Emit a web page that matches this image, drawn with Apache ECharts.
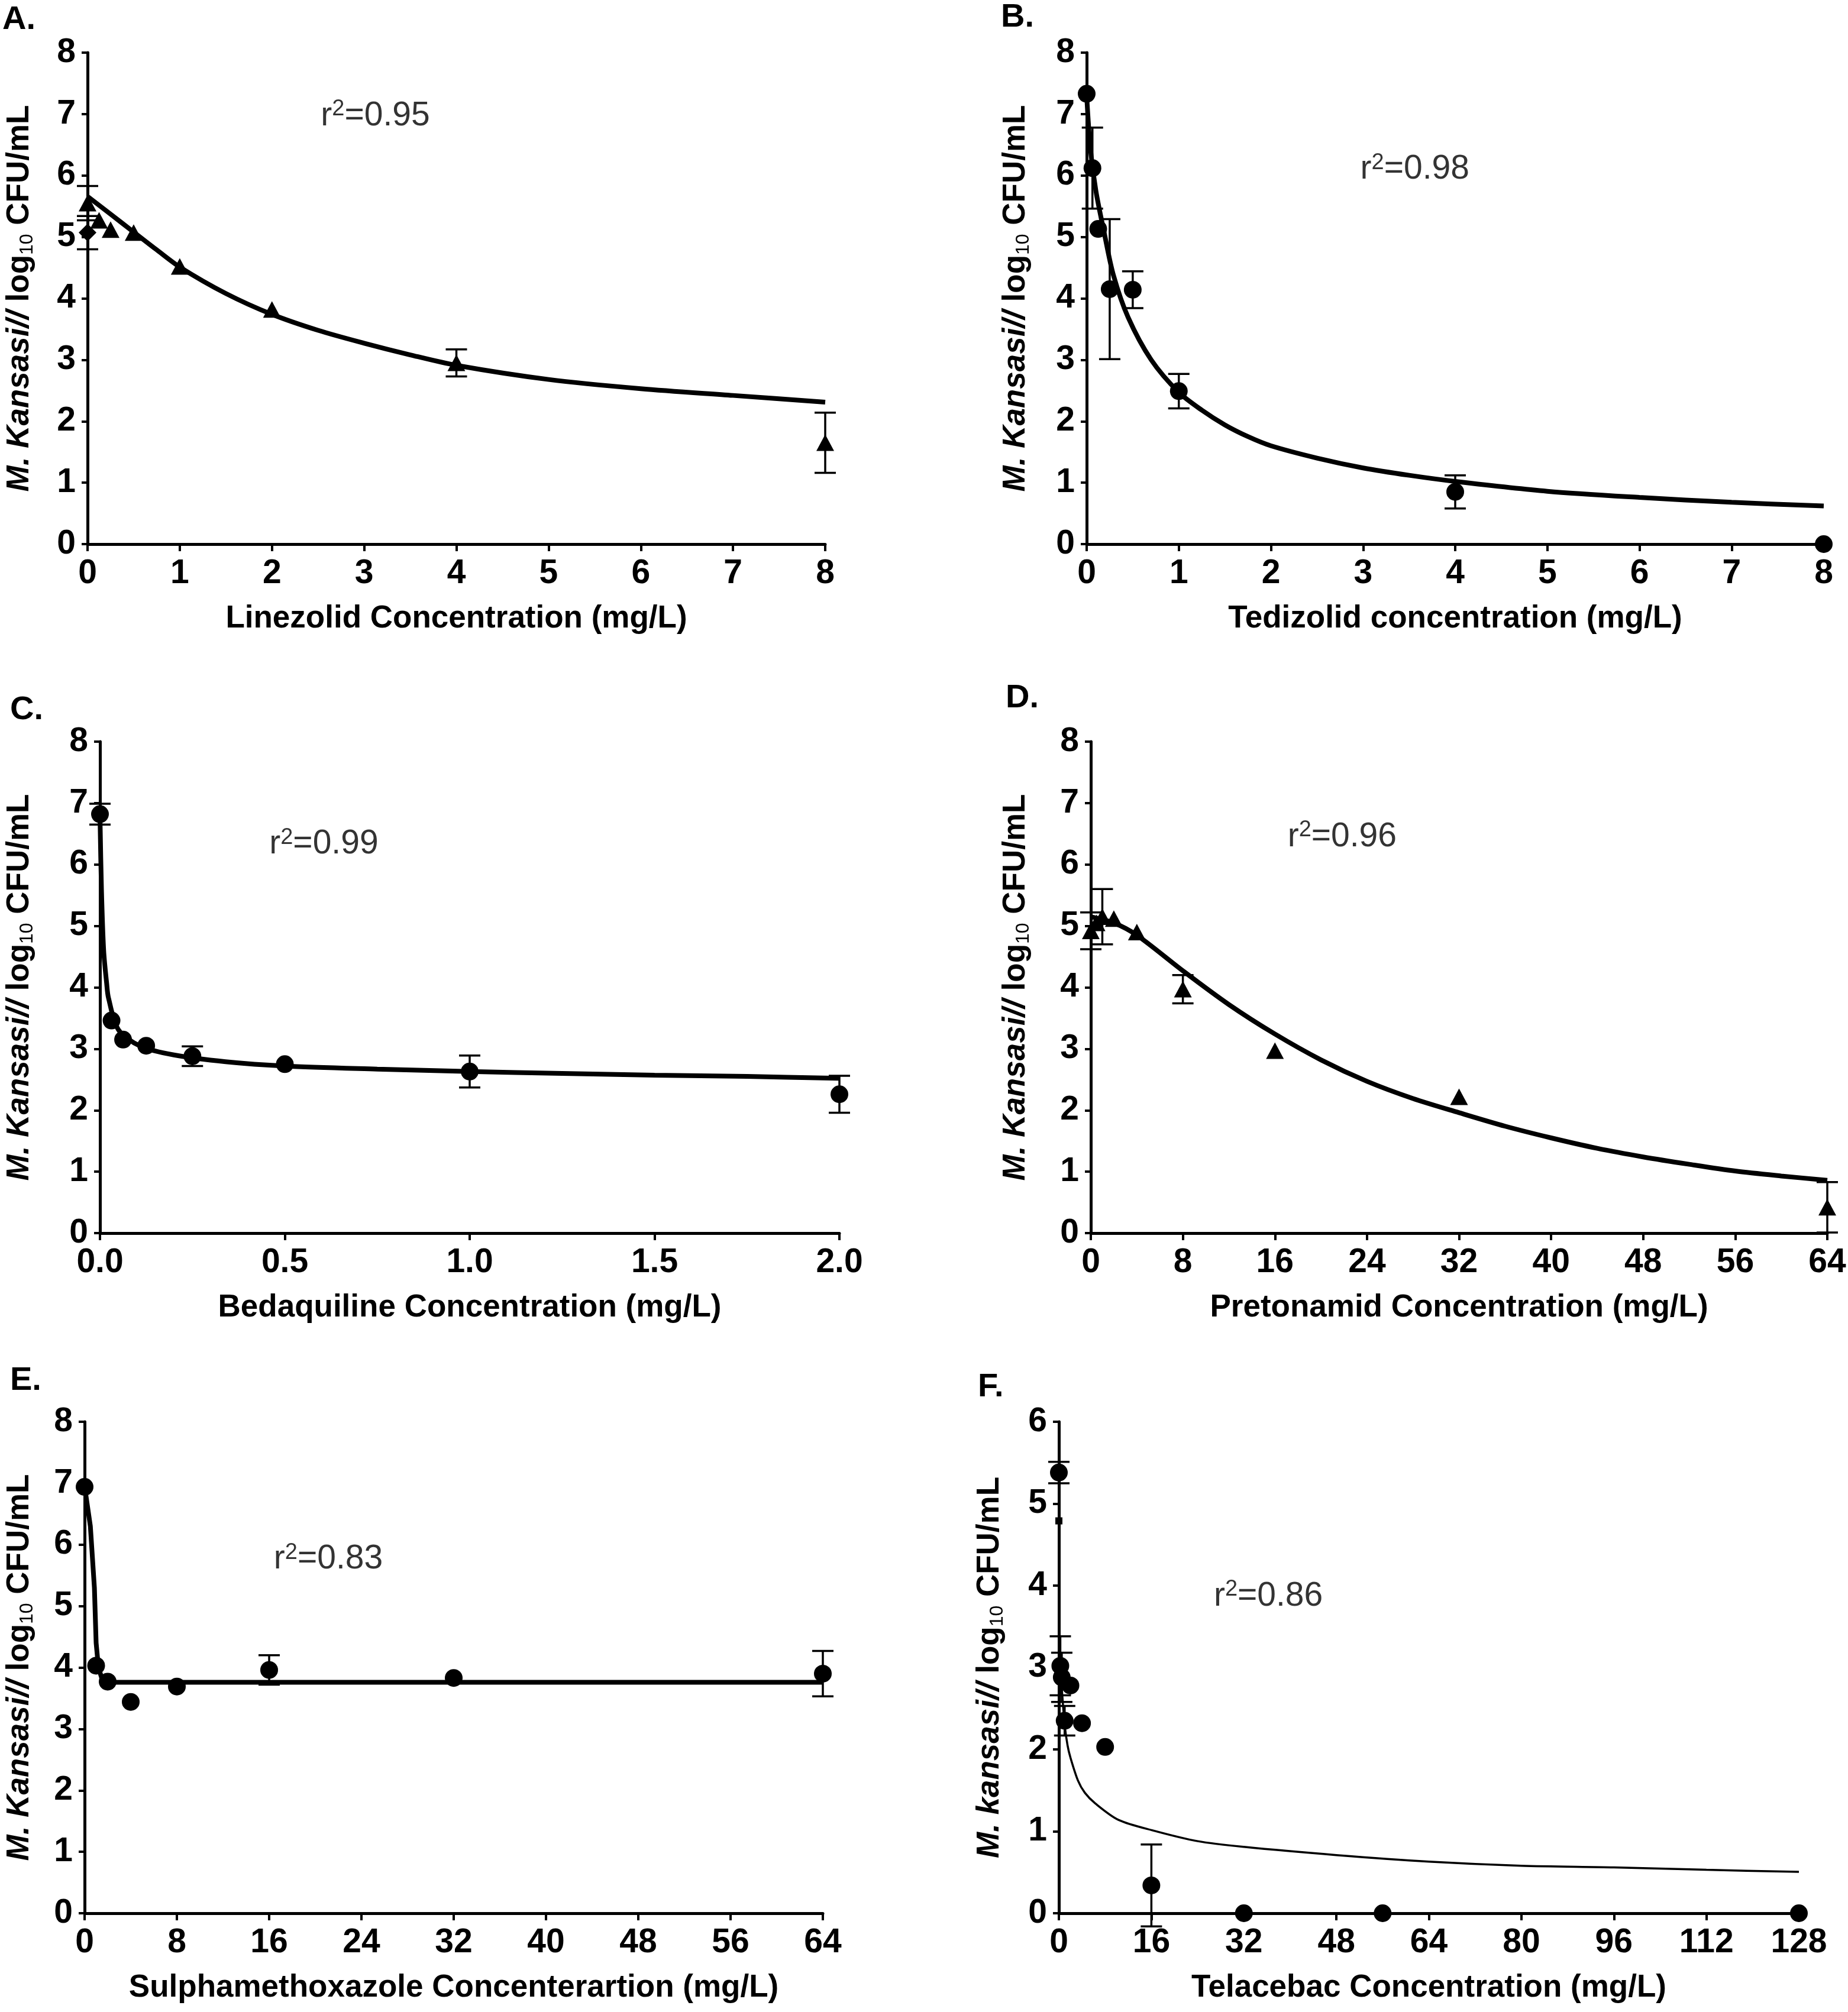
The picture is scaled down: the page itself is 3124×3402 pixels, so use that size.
<!DOCTYPE html>
<html><head><meta charset="utf-8">
<script src="https://cdn.jsdelivr.net/npm/echarts@6/dist/echarts.min.js"></script>
<style>html,body{margin:0;padding:0;background:#fff}#c{width:3124px;height:3402px}</style>
</head><body><div id="c"></div>
<script>
// ---------------- DATA ----------------
// Panel A – Linezolid
const aTriX = [0, 0.125, 0.25, 0.5, 1, 2, 4, 8];
const aTriY = [5.55, 5.27, 5.12, 5.07, 4.52, 3.82, 2.95, 1.65];
const aTriErr = [0.28, 0, 0, 0, 0, 0, 0.22, 0.49];
const aDiaX = [0];
const aDiaY = [5.07];
const aDiaErr = [0.27];
const aCurveX = [0, 0.25, 0.5, 0.75, 1, 1.5, 2, 2.5, 3, 3.5, 4, 5, 6, 7, 8];
const aCurveY = [5.66, 5.37, 5.08, 4.79, 4.51, 4.08, 3.74, 3.48, 3.27, 3.08, 2.91, 2.68, 2.53, 2.42, 2.31];
// Panel B – Tedizolid
const bX = [0, 0.0625, 0.125, 0.25, 0.5, 1, 4, 8];
const bY = [7.33, 6.12, 5.13, 4.15, 4.14, 2.49, 0.85, 0];
const bErr = [0, 0.66, 0, 1.14, 0.3, 0.28, 0.27, 0];
const bCurveX = [0, 0.04, 0.1, 0.19, 0.29, 0.45, 0.7, 1, 1.25, 1.5, 1.75, 2, 2.5, 3, 3.5, 4, 5, 6, 7, 8];
const bCurveY = [7.3, 6.44, 5.75, 5.07, 4.38, 3.69, 3.0, 2.47, 2.18, 1.94, 1.75, 1.6, 1.4, 1.24, 1.12, 1.02, 0.86, 0.76, 0.68, 0.62];
// Panel C – Bedaquiline
const cX = [0, 0.03125, 0.0625, 0.125, 0.25, 0.5, 1, 2];
const cY = [6.82, 3.46, 3.15, 3.05, 2.88, 2.75, 2.63, 2.26];
const cErr = [0.17, 0, 0, 0, 0.16, 0, 0.26, 0.3];
const cCurveX = [0, 0.004, 0.01, 0.018, 0.023, 0.05, 0.11, 0.2, 0.34, 0.5, 0.75, 1, 1.25, 1.5, 1.75, 2];
const cCurveY = [6.8, 5.6, 4.6, 4.07, 3.83, 3.31, 3.04, 2.9, 2.79, 2.72, 2.67, 2.63, 2.6, 2.57, 2.55, 2.52];
// Panel D – Pretonamid
const dX = [0, 0.5, 1, 2, 4, 8, 16, 32, 64];
const dY = [4.92, 5.05, 5.15, 5.12, 4.9, 3.97, 2.97, 2.22, 0.42];
const dErr = [0.3, 0, 0.45, 0, 0, 0.23, 0, 0, 0.41];
const dCurveX = [0, 2, 4, 8, 12, 16, 20, 24, 28, 32, 36, 40, 44, 48, 52, 56, 60, 64];
const dCurveY = [5.15, 5.05, 4.85, 4.27, 3.72, 3.24, 2.82, 2.47, 2.19, 1.96, 1.74, 1.55, 1.38, 1.24, 1.12, 1.01, 0.93, 0.86];
// Panel E – Sulphamethoxazole
const eX = [0, 1, 2, 4, 8, 16, 32, 64];
const eY = [6.94, 4.03, 3.77, 3.44, 3.69, 3.96, 3.83, 3.9];
const eErr = [0, 0, 0, 0, 0, 0.24, 0, 0.37];
const eCurveX = [0, 0.5, 0.85, 1.0, 1.2, 1.5, 2, 64];
const eCurveY = [6.95, 6.3, 5.3, 4.4, 4.0, 3.82, 3.76, 3.76];
// Panel F – Telacebac
const fX = [0, 0.25, 0.5, 1, 2, 4, 8, 16, 32, 56, 128];
const fY = [5.38, 3.02, 2.88, 2.35, 2.78, 2.32, 2.03, 0.34, 0, 0, 0];
const fErr = [0.13, 0.36, 0.3, 0.18, 0, 0, 0, 0.5, 0, 0, 0];
const fSqX = [0];
const fSqY = [4.79];
const fCurveX = [0.25, 0.5, 1, 1.5, 2, 3.3, 4.5, 6.3, 10.3, 16.3, 24, 32, 48, 64, 80, 96, 112, 128];
const fCurveY = [3.0, 2.75, 2.3, 2.05, 1.9, 1.62, 1.47, 1.34, 1.14, 1.01, 0.88, 0.81, 0.71, 0.63, 0.58, 0.56, 0.53, 0.505];

const panelLetters = ['A.', 'B.', 'C.', 'D.', 'E.', 'F.'];
const xTitles = ['Linezolid Concentration (mg/L)', 'Tedizolid concentration (mg/L)',
  'Bedaquiline Concentration (mg/L)', 'Pretonamid Concentration (mg/L)',
  'Sulphamethoxazole Concenterartion (mg/L)', 'Telacebac Concentration (mg/L)'];
const speciesNames = ['M. Kansasi//', 'M. Kansasi//', 'M. Kansasi//', 'M. Kansasi//', 'M. Kansasi//', 'M. kansasi//'];
const xMaxes = [8, 8, 2, 64, 64, 128];
const xIntervals = [1, 1, 0.5, 8, 8, 16];
const yMaxes = [8, 8, 8, 8, 8, 6];
const r2Values = ['0.95', '0.98', '0.99', '0.96', '0.83', '0.86'];
const r2X = [2.53, 2.97, 0.458, 17.1, 16.4, 26.8];
const r2Y = [6.97, 6.1, 6.33, 6.45, 5.76, 3.87];

// ---------------- LAYOUT ----------------
const grids = [
  {left: 148, top: 89, width: 1247, height: 831},
  {left: 1837, top: 89, width: 1246, height: 831},
  {left: 169, top: 1254, width: 1250, height: 831},
  {left: 1844, top: 1254, width: 1245, height: 831},
  {left: 143, top: 2404, width: 1248, height: 831},
  {left: 1790, top: 2404, width: 1251, height: 831}
];
const yNameGaps = [86, 91, 107, 98, 81, 88];
const letterPos = [[4, 6], [1692, 2], [17, 1173], [1700, 1153], [17, 2307], [1653, 2318]];

const FONT = '"Liberation Sans", Arial, Helvetica, sans-serif';

function zip(xs, ys) { return xs.map((x, i) => [x, ys[i]]); }
function zip3(xs, ys, es) { return xs.map((x, i) => [x, ys[i], es[i]]).filter(d => d[2] > 0); }

const pointSets = [
  [{x: aTriX, y: aTriY, e: aTriErr, sym: 'triangle'}, {x: aDiaX, y: aDiaY, e: aDiaErr, sym: 'diamond'}],
  [{x: bX, y: bY, e: bErr, sym: 'circle'}],
  [{x: cX, y: cY, e: cErr, sym: 'circle'}],
  [{x: dX, y: dY, e: dErr, sym: 'triangle'}],
  [{x: eX, y: eY, e: eErr, sym: 'circle'}],
  [{x: fX, y: fY, e: fErr, sym: 'circle'}, {x: fSqX, y: fSqY, e: [0], sym: 'rect', size: 12}]
];
const curves = [
  {x: aCurveX, y: aCurveY, w: 8, smooth: 0.3},
  {x: bCurveX, y: bCurveY, w: 8, smooth: 0.3},
  {x: cCurveX, y: cCurveY, w: 8, smooth: 0.3},
  {x: dCurveX, y: dCurveY, w: 8, smooth: 0.3},
  {x: eCurveX, y: eCurveY, w: 8, smooth: false},
  {x: fCurveX, y: fCurveY, w: 3.5, smooth: 0.3}
];

function errRender(params, api) {
  const x = api.value(0), y = api.value(1), e = api.value(2);
  const t = api.coord([x, y + e]);
  const b = api.coord([x, y - e]);
  const hw = 18;
  const st = {stroke: '#000', lineWidth: 3.5};
  return {type: 'group', children: [
    {type: 'line', shape: {x1: t[0], y1: t[1], x2: b[0], y2: b[1]}, style: st},
    {type: 'line', shape: {x1: t[0] - hw, y1: t[1], x2: t[0] + hw, y2: t[1]}, style: st},
    {type: 'line', shape: {x1: b[0] - hw, y1: b[1], x2: b[0] + hw, y2: b[1]}, style: st}
  ]};
}

const option = {
  backgroundColor: '#fff',
  animation: false,
  grid: grids.map(g => Object.assign({containLabel: false}, g)),
  xAxis: [], yAxis: [], series: [],
  graphic: panelLetters.map((t, i) => ({
    type: 'text', left: letterPos[i][0], top: letterPos[i][1],
    style: {text: t, font: 'bold 56px ' + FONT, fill: '#000'}
  }))
};

for (let i = 0; i < 6; i++) {
  option.xAxis.push({
    type: 'value', gridIndex: i, min: 0, max: xMaxes[i], interval: xIntervals[i],
    splitLine: {show: false},
    axisLine: {show: true, onZero: false, lineStyle: {color: '#000', width: 5}},
    axisTick: {show: true, length: 12, lineStyle: {color: '#000', width: 4}},
    axisLabel: {color: '#000', fontFamily: FONT, fontWeight: 'bold', fontSize: 57, margin: 22,
      formatter: v => i === 2 ? v.toFixed(1) : String(v)},
    name: xTitles[i], nameLocation: 'middle', nameGap: 100,
    nameTextStyle: {color: '#000', fontFamily: FONT, fontWeight: 'bold', fontSize: 53}
  });
  option.yAxis.push({
    type: 'value', gridIndex: i, min: 0, max: yMaxes[i], interval: 1,
    splitLine: {show: false},
    axisLine: {show: true, onZero: false, lineStyle: {color: '#000', width: 5}},
    axisTick: {show: true, length: 10, lineStyle: {color: '#000', width: 4}},
    axisLabel: {color: '#000', fontFamily: FONT, fontWeight: 'bold', fontSize: 57, margin: 20},
    name: '{it|' + speciesNames[i] + '}{b| log}{sub|10}{b| CFU/mL}',
    nameLocation: 'middle', nameRotate: 90, nameGap: yNameGaps[i],
    nameTextStyle: {
      color: '#000',
      rich: {
        it: {fontFamily: FONT, fontWeight: 'bold', fontStyle: 'italic', fontSize: 53, lineHeight: 58, color: '#000'},
        b: {fontFamily: FONT, fontWeight: 'bold', fontSize: 53, lineHeight: 58, color: '#000'},
        sub: {fontFamily: FONT, fontWeight: 'normal', fontSize: 32, lineHeight: 32, verticalAlign: 'bottom', color: '#000'}
      }
    }
  });
  const c = curves[i];
  option.series.push({
    type: 'line', xAxisIndex: i, yAxisIndex: i, data: zip(c.x, c.y),
    showSymbol: false, symbol: 'none', smooth: c.smooth,
    lineStyle: {color: '#000', width: c.w, opacity: 1}, z: 3, clip: false, silent: true
  });
  pointSets[i].forEach(p => {
    const errs = zip3(p.x, p.y, p.e);
    if (errs.length) {
      option.series.push({
        type: 'custom', xAxisIndex: i, yAxisIndex: i, data: errs,
        encode: {x: 0, y: 1}, renderItem: errRender, z: 2, clip: false, silent: true
      });
    }
    option.series.push({
      type: 'scatter', xAxisIndex: i, yAxisIndex: i, data: zip(p.x, p.y),
      symbol: p.sym, symbolSize: p.size || (p.sym === 'triangle' ? [30, 28] : 30),
      itemStyle: {color: '#000', opacity: 1}, z: 4, clip: false, silent: true
    });
  });
  option.series.push({
    type: 'scatter', xAxisIndex: i, yAxisIndex: i, data: [[r2X[i], r2Y[i]]],
    symbolSize: 0, z: 5, silent: true,
    label: {
      show: true, position: 'inside', align: 'left', verticalAlign: 'middle',
      formatter: '{n|r}{sup|2}{n|=' + r2Values[i] + '}',
      rich: {
        n: {fontFamily: FONT, fontSize: 57, lineHeight: 60, color: '#000'},
        sup: {fontFamily: FONT, fontSize: 38, lineHeight: 38, verticalAlign: 'top', color: '#000'}
      }
    }
  });
}

const chart = echarts.init(document.getElementById('c'), null, {renderer: 'canvas', width: 3124, height: 3402});
chart.setOption(option);
</script>
</body></html>
